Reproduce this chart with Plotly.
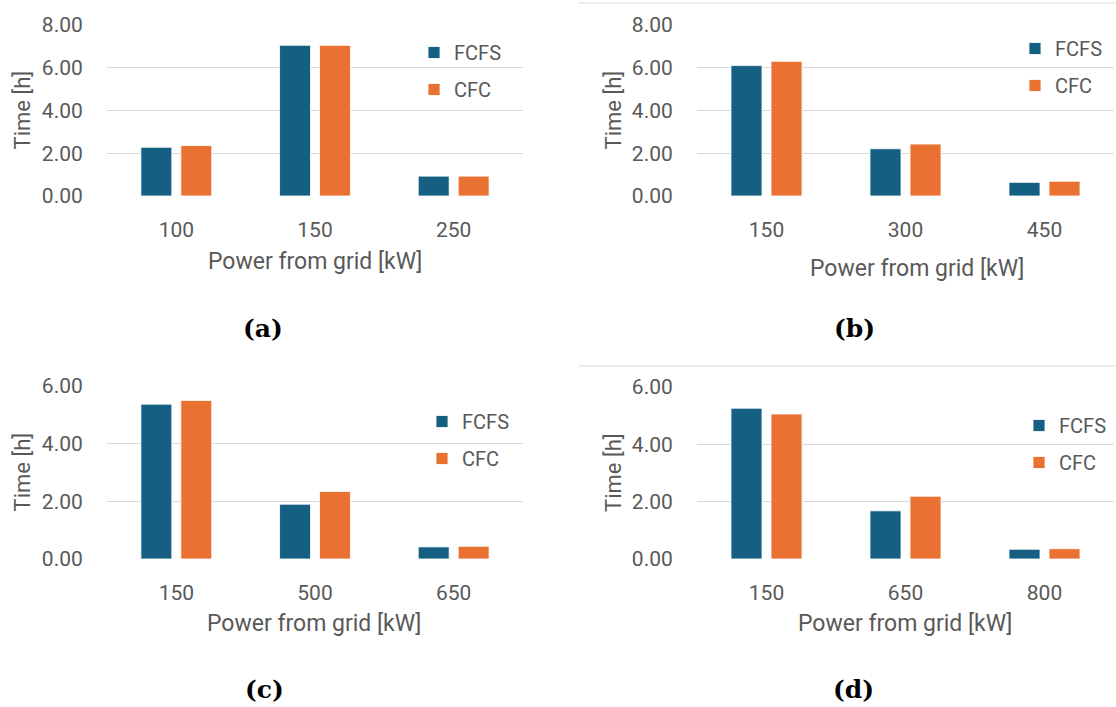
import plotly.graph_objects as go

W, H = 1116, 707

# ---- data ----
cats_a = ["100", "150", "250"]
fcfs_a = [2.28, 7.05, 0.93]
cfc_a = [2.36, 7.05, 0.93]

cats_b = ["150", "300", "450"]
fcfs_b = [6.10, 2.21, 0.64]
cfc_b = [6.30, 2.43, 0.69]

cats_c = ["150", "500", "650"]
fcfs_c = [5.37, 1.90, 0.42]
cfc_c = [5.50, 2.34, 0.44]

cats_d = ["150", "650", "800"]
fcfs_d = [5.26, 1.68, 0.34]
cfc_d = [5.06, 2.19, 0.36]

y_ticks_8 = [0, 2, 4, 6, 8]
y_ticks_6 = [0, 2, 4, 6]
panel_labels = ["(a)", "(b)", "(c)", "(d)"]

# ---- style ----
BLUE = "#156082"
ORANGE = "#E97132"
TXT = "#595959"
GRID = "#D9D9D9"
FONT = "Roboto"

def X(px):
    return px / W

def Y(py):
    return 1 - py / H

panels = [
    dict(cats=cats_a, f=fcfs_a, c=cfc_a, ticks=y_ticks_8, xd=(107, 523), yd=(25, 196),
         leg=(414, 33), title_xy=(315, 262), ytitle_x=22, lab_xy=(263, 328)),
    dict(cats=cats_b, f=fcfs_b, c=cfc_b, ticks=y_ticks_8, xd=(697, 1114), yd=(25, 196),
         leg=(1015, 29), title_xy=(917, 268), ytitle_x=613, lab_xy=(854, 328)),
    dict(cats=cats_c, f=fcfs_c, c=cfc_c, ticks=y_ticks_6, xd=(107, 523), yd=(386, 559),
         leg=(422, 402), title_xy=(314, 623), ytitle_x=22, lab_xy=(264, 689)),
    dict(cats=cats_d, f=fcfs_d, c=cfc_d, ticks=y_ticks_6, xd=(697, 1114), yd=(387, 559),
         leg=(1019, 406), title_xy=(905, 623), ytitle_x=613, lab_xy=(853, 689)),
]

fig = go.Figure()
layout = dict(
    width=W, height=H, margin=dict(l=0, r=0, t=0, b=0, autoexpand=False),
    paper_bgcolor="white", plot_bgcolor="white",
    barmode="group", bargap=0.424, bargroupgap=0.225,
    font=dict(family=FONT, color=TXT, size=20),
    annotations=[], shapes=[],
)

for i, p in enumerate(panels):
    n = "" if i == 0 else str(i + 1)
    xa, ya = "x" + n, "y" + n
    leg = "legend" + n
    fig.add_trace(go.Bar(x=p["cats"], y=p["f"], name="FCFS", marker=dict(color=BLUE, line=dict(color="white", width=0.8)),
                         xaxis=xa, yaxis=ya, legend=leg, legendgroup="f" + n, hoverinfo="skip"))
    fig.add_trace(go.Bar(x=p["cats"], y=p["c"], name="CFC", marker=dict(color=ORANGE, line=dict(color="white", width=0.8)),
                         xaxis=xa, yaxis=ya, legend=leg, legendgroup="c" + n, hoverinfo="skip"))
    layout["xaxis" + n] = dict(domain=[X(p["xd"][0]), X(p["xd"][1])], anchor=ya, showgrid=False,
                               showline=False, zeroline=False, ticks="outside", ticklen=15,
                               tickcolor="rgba(0,0,0,0)", tickfont=dict(size=21, color=TXT),
                               automargin=False)
    layout["yaxis" + n] = dict(domain=[Y(p["yd"][1]), Y(p["yd"][0])], anchor=xa,
                               range=[0, max(p["ticks"])], tickvals=p["ticks"], tickformat=".2f",
                               showgrid=True, gridcolor=GRID, gridwidth=1, zeroline=False,
                               showline=False, ticks="outside", ticklen=19,
                               tickcolor="rgba(0,0,0,0)", tickfont=dict(size=21, color=TXT),
                               automargin=False)
    layout[leg] = dict(x=X(p["leg"][0]), y=Y(p["leg"][1]), xanchor="left", yanchor="top",
                       bgcolor="rgba(0,0,0,0)", font=dict(size=20, color=TXT),
                       tracegroupgap=8, itemwidth=30)
    layout["annotations"].append(dict(text="Power from grid [kW]", x=X(p["title_xy"][0]), y=Y(p["title_xy"][1]),
                                      xref="paper", yref="paper", showarrow=False, xanchor="center",
                                      yanchor="middle", font=dict(size=23, color=TXT, family=FONT)))
    layout["annotations"].append(dict(text="Time [h]", x=X(p["ytitle_x"]), y=Y((p["yd"][0] + p["yd"][1]) / 2),
                                      xref="paper", yref="paper", showarrow=False, textangle=-90,
                                      xanchor="center", yanchor="middle",
                                      font=dict(size=22, color=TXT, family=FONT)))
    layout["annotations"].append(dict(text="<b>" + panel_labels[i] + "</b>", x=X(p["lab_xy"][0]), y=Y(p["lab_xy"][1]),
                                      xref="paper", yref="paper", showarrow=False, xanchor="center",
                                      yanchor="middle", font=dict(size=25, color="black", family="DejaVu Serif")))

# faint chart-area borders of right-hand panels
for yy in (3, 366):
    layout["shapes"].append(dict(type="line", xref="paper", yref="paper", x0=X(579), x1=1, y0=Y(yy), y1=Y(yy),
                                 line=dict(color=GRID, width=1)))

fig.update_layout(**layout)
fig.write_html("out.html")
